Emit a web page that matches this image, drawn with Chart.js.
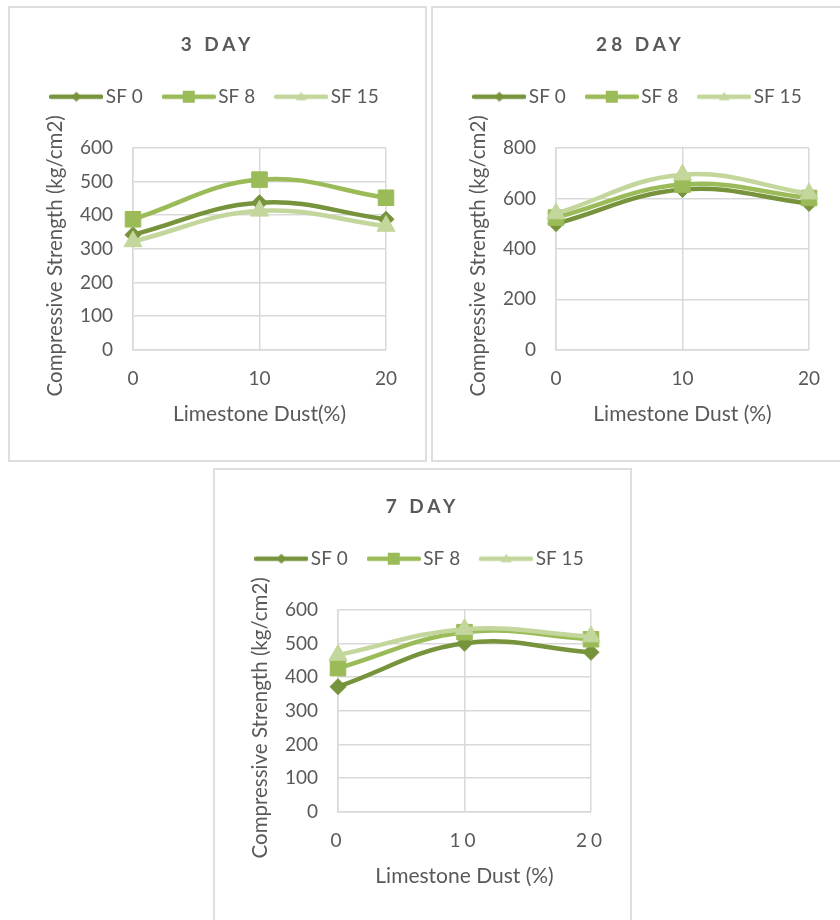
<!DOCTYPE html>
<html>
<head>
<meta charset="utf-8">
<script src="https://cdn.jsdelivr.net/npm/chart.js@4.4.1/dist/chart.umd.min.js"></script>
<style>
  html, body { margin: 0; padding: 0; background: #ffffff; width: 840px; height: 920px; overflow: hidden; }
  .box { position: absolute; width: 415px; height: 452px; border: 2px solid #dedede; background: #ffffff; }
  .box canvas { display: block; }
</style>
</head>
<body>
<div class="box" style="left:8px;top:6px;"><canvas id="c3" width="415" height="452"></canvas></div>
<div class="box" style="left:431px;top:6px;"><canvas id="c28" width="415" height="452"></canvas></div>
<div class="box" style="left:213px;top:468px;"><canvas id="c7" width="415" height="452"></canvas></div>
<script>
// ---------- data ----------
const xLabels = ['0', '10', '20'];
const seriesNames = ['SF 0', 'SF 8', 'SF 15'];
const seriesColors = ['#77933C', '#9BBB59', '#C3D69B'];
const markerStyles = ['rectRot', 'rect', 'triangle'];

const day3SF0 = [342, 437, 388];
const day3SF8 = [388, 506, 452];
const day3SF15 = [322, 413, 368];
const day3YTicks = [0, 100, 200, 300, 400, 500, 600];

const day28SF0 = [500, 635, 580];
const day28SF8 = [524, 655, 602];
const day28SF15 = [540, 694, 619];
const day28YTicks = [0, 200, 400, 600, 800];

const day7SF0 = [372, 501, 474];
const day7SF8 = [427, 534, 513];
const day7SF15 = [466, 543, 521];
const day7YTicks = [0, 100, 200, 300, 400, 500, 600];

const yTitle = 'Compressive Strength (kg/cm2)';
// ---------- styling ----------
const TEXT = '#595959';
const GRID = '#d9d9d9';
Chart.defaults.font.family = 'Lato, "Open Sans", sans-serif';
Chart.defaults.color = TEXT;

const markerRadius = { rectRot: 8, rect: 11, triangle: 10.5 };

function legendIcon(color, style) {
  const c = document.createElement('canvas');
  c.width = 54; c.height = 20;
  const g = c.getContext('2d');
  g.strokeStyle = color; g.fillStyle = color; g.lineWidth = 4.5; g.lineCap = 'round';
  g.beginPath(); g.moveTo(2, 10); g.lineTo(52, 10); g.stroke();
  g.beginPath();
  if (style === 'rectRot') {
    g.moveTo(27, 5); g.lineTo(32, 10); g.lineTo(27, 15); g.lineTo(22, 10); g.closePath();
  } else if (style === 'rect') {
    g.rect(21, 4, 12, 12);
  } else {
    g.moveTo(27, 5); g.lineTo(32.5, 13.5); g.lineTo(21.5, 13.5); g.closePath();
  }
  g.fill();
  return c;
}
const legendIcons = seriesColors.map((c, i) => legendIcon(c, markerStyles[i]));

function withCtx(obj, method, setup) {
  const orig = obj[method];
  obj[method] = function () {
    const c = this.ctx; c.save(); setup(c); orig.apply(this, arguments); c.restore();
  };
}

const patchPlugin = {
  id: 'patchPlugin',
  afterInit(chart) {
    const lg = chart.legend;
    const fit0 = lg.fit;
    lg.fit = function () { fit0.call(this); this.height = 86.8; };
    withCtx(chart.titleBlock, 'draw', (c) => { c.letterSpacing = '4px'; });
  },
  beforeDraw(chart, args, opts) {
    if (chart._patchedScales) return;
    chart._patchedScales = true;
    if (opts.tickSpacing) {
      withCtx(chart.scales.x, 'drawLabels', (c) => { c.letterSpacing = opts.tickSpacing; });
    }
    withCtx(chart.scales.y, 'drawTitle', (c) => { c.translate(0, 7); });
  }
};

function makeChart(id, title, s0, s8, s15, yTicks, xTitle, tickSpacing) {
  const values = [s0, s8, s15];
  const datasets = values.map((v, i) => ({
    label: seriesNames[i],
    data: v,
    borderColor: seriesColors[i],
    backgroundColor: seriesColors[i],
    borderWidth: 4.5,
    tension: 0.4,
    pointStyle: markerStyles[i],
    pointRadius: markerRadius[markerStyles[i]],
    pointBorderWidth: 1,
    pointBorderColor: seriesColors[i],
    pointBackgroundColor: seriesColors[i],
    clip: false,
    order: values.length - 1 - i
  }));
  return new Chart(document.getElementById(id), {
    type: 'line',
    data: { labels: xLabels, datasets },
    plugins: [patchPlugin],
    options: {
      responsive: false,
      animation: false,
      devicePixelRatio: 1,
      events: [],
      layout: { padding: { left: 0, right: 0, top: 0, bottom: 32.7 } },
      plugins: {
        patchPlugin: { tickSpacing },
        tooltip: { enabled: false },
        title: {
          display: true, text: title, color: TEXT,
          font: { size: 19, weight: 'bold' },
          padding: { top: 25, bottom: 5.4 }
        },
        legend: {
          display: true,
          labels: {
            color: TEXT,
            font: { size: 19 },
            usePointStyle: true,
            pointStyleWidth: 40,
            padding: 26,
            sort: (a, b) => a.datasetIndex - b.datasetIndex,
            generateLabels: (chart) => {
              const items = Chart.defaults.plugins.legend.labels.generateLabels(chart);
              items.forEach(it => { it.pointStyle = legendIcons[it.datasetIndex]; });
              return items;
            }
          }
        }
      },
      scales: {
        x: {
          type: 'category',
          offset: false,
          grid: { color: GRID, lineWidth: 1.5, drawTicks: false },
          border: { color: GRID, width: 1.5 },
          ticks: { font: { size: 19 }, color: TEXT, padding: 17.3, maxRotation: 0 },
          title: { display: true, text: xTitle, color: TEXT, font: { size: 21 }, padding: { top: 0, bottom: 0 } },
          afterFit: (s) => { s.height = 77.6; }
        },
        y: {
          min: yTicks[0],
          max: yTicks[yTicks.length - 1],
          grid: { color: GRID, lineWidth: 1.5, drawTicks: false },
          border: { color: GRID, width: 1.5 },
          ticks: { stepSize: yTicks[1] - yTicks[0], font: { size: 19 }, color: TEXT, padding: 20 },
          title: { display: true, text: yTitle, color: TEXT, font: { size: 20.5 }, padding: { top: 32.7, bottom: 0 } },
          afterFit: (s) => { s.width = 123; }
        },
        spacer: {
          type: 'linear',
          position: 'right',
          display: true,
          grid: { display: false, drawTicks: false },
          border: { display: false },
          ticks: { display: false },
          afterFit: (s) => { s.width = 39; }
        }
      }
    }
  });
}

const chart3 = makeChart('c3', '3 DAY', day3SF0, day3SF8, day3SF15, day3YTicks, 'Limestone Dust(%)', null);
const chart28 = makeChart('c28', '28 DAY', day28SF0, day28SF8, day28SF15, day28YTicks, 'Limestone Dust (%)', null);
const chart7 = makeChart('c7', '7 DAY', day7SF0, day7SF8, day7SF15, day7YTicks, 'Limestone Dust (%)', '4px');
[chart3, chart28, chart7].forEach(c => c.draw());
</script>
</body>
</html>
